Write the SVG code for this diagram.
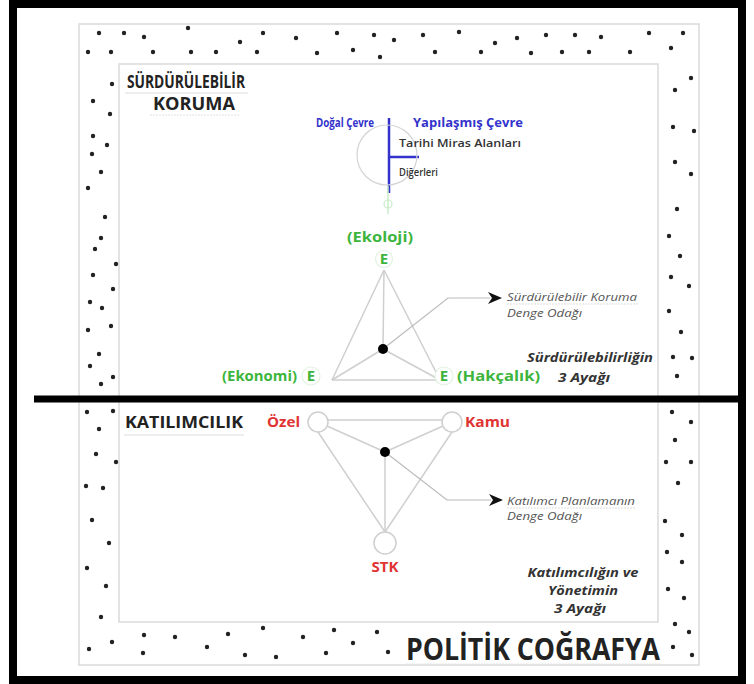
<svg xmlns="http://www.w3.org/2000/svg" width="754" height="684" viewBox="0 0 754 684">
<defs>
<style>
.t{font-family:"Open Sans","Noto Sans","Liberation Sans",sans-serif}
.hd{font-weight:700;fill:#222;font-size:17px}
.bl{font-weight:700;fill:#3333cc;font-size:12.5px}
.sm{fill:#333;font-size:10.5px;font-weight:600}
.gr{font-weight:700;fill:#3db53d;font-size:15px}
.rd{font-weight:700;fill:#e03333;font-size:14px}
.it{font-style:italic;fill:#555;font-size:10.5px}
.bi{font-style:italic;font-weight:700;fill:#333;font-size:11.5px}
.band{fill:none;stroke:#dadada;stroke-width:1.5}
.ln{fill:none;stroke:#cfcfcf;stroke-width:1.5}
.ld{fill:none;stroke:#bbb;stroke-width:1.2}
.nc{fill:#fff;stroke:#cfcfcf;stroke-width:1.5}
.ec{fill:#fff;stroke:#e2f2e2;stroke-width:1.2}
.d{fill:#222}
</style>
<marker id="ah" markerWidth="14" markerHeight="12" refX="2" refY="6" orient="auto" markerUnits="userSpaceOnUse">
<path d="M0,0 L14,6 L0,12 L4,6 Z" fill="#111"/>
</marker>
</defs>
<rect width="754" height="684" fill="#fff"/>
<rect x="13" y="4" width="729" height="676" fill="none" stroke="#000" stroke-width="8"/>
<g id="bands">
<rect class="band" x="79" y="24" width="620" height="641"/>
<rect class="band" x="119" y="64" width="539" height="558"/>
</g>
<g id="dots">
<circle class="d" cx="99" cy="33" r="2.2"/><circle class="d" cx="124" cy="33" r="2.2"/><circle class="d" cx="144" cy="37" r="2.2"/><circle class="d" cx="188" cy="28" r="2.2"/><circle class="d" cx="240" cy="42" r="2.2"/><circle class="d" cx="263" cy="33" r="2.2"/><circle class="d" cx="296" cy="38" r="2.2"/><circle class="d" cx="337" cy="33" r="2.2"/><circle class="d" cx="374" cy="35" r="2.2"/><circle class="d" cx="394" cy="40" r="2.2"/><circle class="d" cx="423" cy="35" r="2.2"/><circle class="d" cx="459" cy="32" r="2.2"/><circle class="d" cx="495" cy="43" r="2.2"/><circle class="d" cx="517" cy="38" r="2.2"/><circle class="d" cx="546" cy="35" r="2.2"/><circle class="d" cx="575" cy="35" r="2.2"/><circle class="d" cx="601" cy="37" r="2.2"/><circle class="d" cx="649" cy="33" r="2.2"/><circle class="d" cx="683" cy="33" r="2.2"/>
<circle class="d" cx="88" cy="52" r="2.2"/><circle class="d" cx="111" cy="52" r="2.2"/><circle class="d" cx="153" cy="52" r="2.2"/><circle class="d" cx="191" cy="52" r="2.2"/><circle class="d" cx="216" cy="52" r="2.2"/><circle class="d" cx="257" cy="52" r="2.2"/><circle class="d" cx="317" cy="53" r="2.2"/><circle class="d" cx="353" cy="50" r="2.2"/><circle class="d" cx="380" cy="57" r="2.2"/><circle class="d" cx="435" cy="52" r="2.2"/><circle class="d" cx="481" cy="52" r="2.2"/><circle class="d" cx="531" cy="53" r="2.2"/><circle class="d" cx="562" cy="52" r="2.2"/><circle class="d" cx="589" cy="52" r="2.2"/><circle class="d" cx="630" cy="52" r="2.2"/><circle class="d" cx="671" cy="48" r="2.2"/>
<circle class="d" cx="112" cy="84" r="2.2"/><circle class="d" cx="93" cy="101" r="2.2"/><circle class="d" cx="110" cy="114" r="2.2"/><circle class="d" cx="93" cy="136" r="2.2"/><circle class="d" cx="107" cy="145" r="2.2"/><circle class="d" cx="92" cy="154" r="2.2"/><circle class="d" cx="101" cy="172" r="2.2"/><circle class="d" cx="88" cy="188" r="2.2"/><circle class="d" cx="105" cy="217" r="2.2"/><circle class="d" cx="101" cy="238" r="2.2"/><circle class="d" cx="95" cy="249" r="2.2"/><circle class="d" cx="116" cy="264" r="2.2"/><circle class="d" cx="93" cy="275" r="2.2"/><circle class="d" cx="113" cy="289" r="2.2"/><circle class="d" cx="90" cy="302" r="2.2"/><circle class="d" cx="102" cy="308" r="2.2"/><circle class="d" cx="88" cy="330" r="2.2"/><circle class="d" cx="111" cy="326" r="2.2"/><circle class="d" cx="99" cy="354" r="2.2"/><circle class="d" cx="90" cy="366" r="2.2"/><circle class="d" cx="113" cy="377" r="2.2"/><circle class="d" cx="101" cy="384" r="2.2"/>
<circle class="d" cx="87" cy="412" r="2.2"/><circle class="d" cx="113" cy="411" r="2.2"/><circle class="d" cx="99" cy="429" r="2.2"/><circle class="d" cx="96" cy="454" r="2.2"/><circle class="d" cx="116" cy="462" r="2.2"/><circle class="d" cx="86" cy="486" r="2.2"/><circle class="d" cx="103" cy="488" r="2.2"/><circle class="d" cx="92" cy="520" r="2.2"/><circle class="d" cx="109" cy="543" r="2.2"/><circle class="d" cx="87" cy="568" r="2.2"/><circle class="d" cx="106" cy="586" r="2.2"/><circle class="d" cx="101" cy="617" r="2.2"/>
<circle class="d" cx="112" cy="642" r="2.2"/><circle class="d" cx="89" cy="649" r="2.2"/><circle class="d" cx="144" cy="635" r="2.2"/><circle class="d" cx="143" cy="653" r="2.2"/><circle class="d" cx="175" cy="637" r="2.2"/><circle class="d" cx="207" cy="647" r="2.2"/><circle class="d" cx="228" cy="634" r="2.2"/><circle class="d" cx="245" cy="655" r="2.2"/><circle class="d" cx="263" cy="628" r="2.2"/><circle class="d" cx="276" cy="657" r="2.2"/><circle class="d" cx="303" cy="637" r="2.2"/><circle class="d" cx="326" cy="653" r="2.2"/><circle class="d" cx="334" cy="630" r="2.2"/><circle class="d" cx="353" cy="643" r="2.2"/><circle class="d" cx="377" cy="632" r="2.2"/><circle class="d" cx="388" cy="652" r="2.2"/>
<circle class="d" cx="691" cy="78" r="2.2"/><circle class="d" cx="675" cy="90" r="2.2"/><circle class="d" cx="673" cy="127" r="2.2"/><circle class="d" cx="694" cy="131" r="2.2"/><circle class="d" cx="675" cy="162" r="2.2"/><circle class="d" cx="691" cy="174" r="2.2"/><circle class="d" cx="677" cy="209" r="2.2"/><circle class="d" cx="669" cy="236" r="2.2"/><circle class="d" cx="680" cy="256" r="2.2"/><circle class="d" cx="671" cy="277" r="2.2"/><circle class="d" cx="689" cy="286" r="2.2"/><circle class="d" cx="669" cy="311" r="2.2"/><circle class="d" cx="681" cy="332" r="2.2"/><circle class="d" cx="673" cy="357" r="2.2"/><circle class="d" cx="692" cy="358" r="2.2"/><circle class="d" cx="677" cy="376" r="2.2"/>
<circle class="d" cx="672" cy="412" r="2.2"/><circle class="d" cx="691" cy="422" r="2.2"/><circle class="d" cx="675" cy="440" r="2.2"/><circle class="d" cx="666" cy="462" r="2.2"/><circle class="d" cx="691" cy="462" r="2.2"/><circle class="d" cx="678" cy="483" r="2.2"/><circle class="d" cx="665" cy="521" r="2.2"/><circle class="d" cx="682" cy="535" r="2.2"/><circle class="d" cx="667" cy="552" r="2.2"/><circle class="d" cx="682" cy="562" r="2.2"/><circle class="d" cx="668" cy="589" r="2.2"/><circle class="d" cx="684" cy="598" r="2.2"/><circle class="d" cx="675" cy="624" r="2.2"/><circle class="d" cx="689" cy="632" r="2.2"/><circle class="d" cx="673" cy="647" r="2.2"/><circle class="d" cx="692" cy="655" r="2.2"/>
</g>
<line x1="34" y1="399" x2="744" y2="399" stroke="#000" stroke-width="7"/>
<g id="connectors">
<line class="ln" x1="384" y1="270" x2="332" y2="380"/>
<line class="ln" x1="384" y1="270" x2="440" y2="380"/>
<line class="ln" x1="332" y1="380" x2="440" y2="380"/>
<line class="ln" x1="383" y1="349" x2="384" y2="270"/>
<line class="ln" x1="383" y1="349" x2="332" y2="380"/>
<line class="ln" x1="383" y1="349" x2="440" y2="380"/>
<polyline class="ld" points="383,349 448,298 490,298" marker-end="url(#ah)"/>
<line x1="389" y1="118" x2="389" y2="193" stroke="#3333cc" stroke-width="2.5"/>
<line x1="389" y1="157" x2="419" y2="157" stroke="#3333cc" stroke-width="2.5"/>
<line x1="388" y1="186" x2="388" y2="214" stroke="#c8ecc8" stroke-width="1.5"/>
<line class="ln" x1="328" y1="420" x2="442" y2="420"/>
<line class="ln" x1="318" y1="432" x2="385" y2="532"/>
<line class="ln" x1="452" y1="432" x2="385" y2="532"/>
<line class="ln" x1="385" y1="452" x2="327" y2="426"/>
<line class="ln" x1="385" y1="452" x2="443" y2="426"/>
<line class="ln" x1="385" y1="452" x2="385" y2="532"/>
<polyline class="ld" points="385,452 447,500 491,500" marker-end="url(#ah)"/>
</g>
<g id="title-koruma">
<text class="t hd" x="127" y="88" textLength="118" lengthAdjust="spacingAndGlyphs">SÜRDÜRÜLEBİLİR</text>
<line x1="125" y1="93" x2="248" y2="93" stroke="#ddd" stroke-width="1"/>
<text class="t hd" x="153" y="110" textLength="82" lengthAdjust="spacingAndGlyphs">KORUMA</text>
<line x1="150" y1="115" x2="240" y2="115" stroke="#e2e2e2" stroke-width="1" stroke-dasharray="2,1"/>
</g>
<g id="cevre">
<circle cx="387" cy="155" r="30" fill="none" stroke="#d4d4d4" stroke-width="1.2"/>
<circle cx="388" cy="204" r="4" fill="none" stroke="#c8ecc8" stroke-width="1.2"/>
<text class="t bl" x="316" y="127" textLength="58" lengthAdjust="spacingAndGlyphs">Doğal Çevre</text>
<text class="t bl" x="413" y="127" textLength="110" lengthAdjust="spacingAndGlyphs">Yapılaşmış Çevre</text>
<text class="t sm" x="399" y="147" textLength="122" lengthAdjust="spacingAndGlyphs">Tarihi Miras Alanları</text>
<text class="t sm" x="399" y="176" textLength="39" lengthAdjust="spacingAndGlyphs">Diğerleri</text>
</g>
<g id="ekoloji">
<text class="t gr" x="347" y="242" textLength="66" lengthAdjust="spacingAndGlyphs">(Ekoloji)</text>
<circle class="ec" cx="384" cy="259" r="8.5"/>
<text class="t gr" x="384" y="264" text-anchor="middle">E</text>
</g>
<g id="ekonomi">
<text class="t gr" x="222" y="381" textLength="75" lengthAdjust="spacingAndGlyphs">(Ekonomi)</text>
<circle class="ec" cx="311" cy="376" r="9"/>
<text class="t gr" x="311" y="381" text-anchor="middle">E</text>
</g>
<g id="hakcalik">
<circle class="ec" cx="444" cy="376" r="9"/>
<text class="t gr" x="444" y="381" text-anchor="middle">E</text>
<text class="t gr" x="457" y="381" textLength="83" lengthAdjust="spacingAndGlyphs">(Hakçalık)</text>
</g>
<g id="denge1">
<circle cx="383" cy="349" r="5" fill="#000"/>
<text class="t it" x="507" y="301" textLength="130" lengthAdjust="spacingAndGlyphs">Sürdürülebilir Koruma</text>
<line x1="507" y1="304" x2="638" y2="304" stroke="#ddd" stroke-width="1" stroke-dasharray="2,1"/>
<text class="t it" x="507" y="317" textLength="75" lengthAdjust="spacingAndGlyphs">Denge Odağı</text>
</g>
<g id="ayak1">
<text class="t bi" x="653" y="362" text-anchor="end" textLength="126" lengthAdjust="spacingAndGlyphs">Sürdürülebilirliğin</text>
<text class="t bi" x="584" y="382" text-anchor="middle" textLength="52" lengthAdjust="spacingAndGlyphs" style="font-size:12.5px">3 Ayağı</text>
</g>
<g id="title-katilim">
<text class="t hd" x="125" y="428" textLength="118" lengthAdjust="spacingAndGlyphs" style="font-size:16px">KATILIMCILIK</text>
<line x1="124" y1="435" x2="244" y2="435" stroke="#ddd" stroke-width="1"/>
</g>
<g id="ozel">
<circle class="nc" cx="318" cy="422" r="10"/>
<text class="t rd" x="267" y="427" textLength="33" lengthAdjust="spacingAndGlyphs">Özel</text>
</g>
<g id="kamu">
<circle class="nc" cx="452" cy="422" r="10"/>
<text class="t rd" x="465" y="427" textLength="45" lengthAdjust="spacingAndGlyphs">Kamu</text>
</g>
<g id="stk">
<circle class="nc" cx="385" cy="543" r="11"/>
<text class="t rd" x="385" y="572" text-anchor="middle" textLength="27" lengthAdjust="spacingAndGlyphs">STK</text>
</g>
<g id="denge2">
<circle cx="385" cy="452" r="5" fill="#000"/>
<text class="t it" x="507" y="505" textLength="128" lengthAdjust="spacingAndGlyphs">Katılımcı Planlamanın</text>
<line x1="507" y1="508" x2="636" y2="508" stroke="#ddd" stroke-width="1" stroke-dasharray="2,1"/>
<text class="t it" x="507" y="520" textLength="75" lengthAdjust="spacingAndGlyphs">Denge Odağı</text>
</g>
<g id="ayak2">
<text class="t bi" x="583" y="577" text-anchor="middle" textLength="111" lengthAdjust="spacingAndGlyphs">Katılımcılığın ve</text>
<text class="t bi" x="583" y="595" text-anchor="middle" textLength="70" lengthAdjust="spacingAndGlyphs">Yönetimin</text>
<text class="t bi" x="580" y="613" text-anchor="middle" textLength="52" lengthAdjust="spacingAndGlyphs" style="font-size:12.5px">3 Ayağı</text>
</g>
<g id="politik">
<text class="t" x="406" y="660" textLength="254" lengthAdjust="spacingAndGlyphs" style="font-size:31px;font-weight:700;fill:#222">POLİTİK COĞRAFYA</text>
<line x1="406" y1="664" x2="660" y2="664" stroke="#e4e4e4" stroke-width="1" stroke-dasharray="2,1"/>
</g>
</svg>
